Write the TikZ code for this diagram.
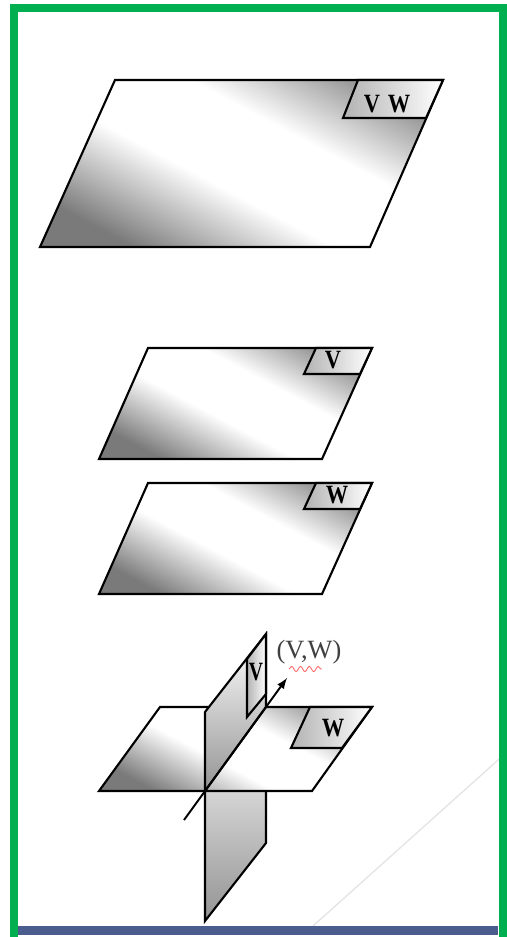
\documentclass[tikz,border=0pt]{standalone}
\usepackage{fontspec}
\setmainfont{Liberation Serif}
\usetikzlibrary{decorations.pathmorphing}

\definecolor{framegreen}{RGB}{0,176,80}
\definecolor{barblue}{RGB}{74,93,140}

% light band across the middle of a plane, darker corners
\pgfdeclareverticalshading{planeshade}{100bp}{color(0bp)=(black!52); color(25bp)=(black!52); color(44bp)=(white); color(60bp)=(white); color(75bp)=(black!40); color(100bp)=(black!40)}

\begin{document}
\begin{tikzpicture}[x=0.02cm,y=-0.02cm,
		plane/.style={draw=black,line width=1.2pt,shading=planeshade,shading angle=-28},
		wall/.style={draw=black,line width=1.2pt,top color=white,bottom color=black!42},
		tab/.style={draw=black,line width=1.2pt,left color=black!30,right color=white},
		lbl/.style={font=\bfseries\fontsize{15}{17}\selectfont,inner sep=0pt}]
	\useasboundingbox (0,0) rectangle (507,937);

	% one plane holding both
	\shade[plane] (115,80) -- (443,80) -- (370,247) -- (40,247) -- cycle;
	\shade[tab] (358,80) -- (443,80) -- (426,118) -- (343,118) -- cycle;
	\node[lbl,xscale=0.85] (vtop) at (372,104) {V};
	\node[lbl,xscale=0.85] (wtop) at (399,104) {W};

	% two parallel planes
	\foreach \y/\name in {348/V,483/W} {
		\shade[plane] (148,\y) -- (372,\y) -- (322,\y+111) -- (99,\y+111) -- cycle;
		\shade[tab] (316,\y) -- (372,\y) -- (360,\y+26) -- (304,\y+26) -- cycle;
	}
	\node[lbl,xscale=0.85] (vmid) at (333,360) {V};
	\node[lbl,xscale=0.85] (wmid) at (337,495) {W};

	% crossing planes
	\shade[wall] (205,791) -- (266,707) -- (266,843) -- (205,921) -- cycle;
	\shade[plane] (160,707) -- (372,707) -- (312,791) -- (99,791) -- cycle;
	\shade[tab] (310,707) -- (372,707) -- (342,748) -- (291,748) -- cycle;
	\node[lbl,xscale=0.85] (wlow) at (333,728) {W};
	\shade[wall] (205,791) -- (266,707) -- (266,634) -- (205,712) -- cycle;
	\shade[tab] (247,659) -- (266,634) -- (266,694) -- (247,717) -- cycle;
	\node[lbl,xscale=0.75] (vlow) at (256,672) {V};

	\coordinate (tail) at (184,820);
	\coordinate (tip) at (287,678);
	\draw[line width=1.1pt,-latex] (tail) -- (tip);
	\node[font=\fontsize{15}{17}\selectfont,text=black!75] (vw) at (309,652) {(V,W)};
	\draw[red!60,line width=0.5pt,decorate,decoration={snake,amplitude=1.5,segment length=5}]
		(289,669) -- (322,669);

	% screen leftovers
	\draw[black!10,line width=0.8pt] (313,926) -- (507,752);
	\fill[barblue] (18,926) rectangle (498,935);
	\draw[framegreen,line width=0.16cm] (14,8) rectangle (503,941);
\end{tikzpicture}
\end{document}
